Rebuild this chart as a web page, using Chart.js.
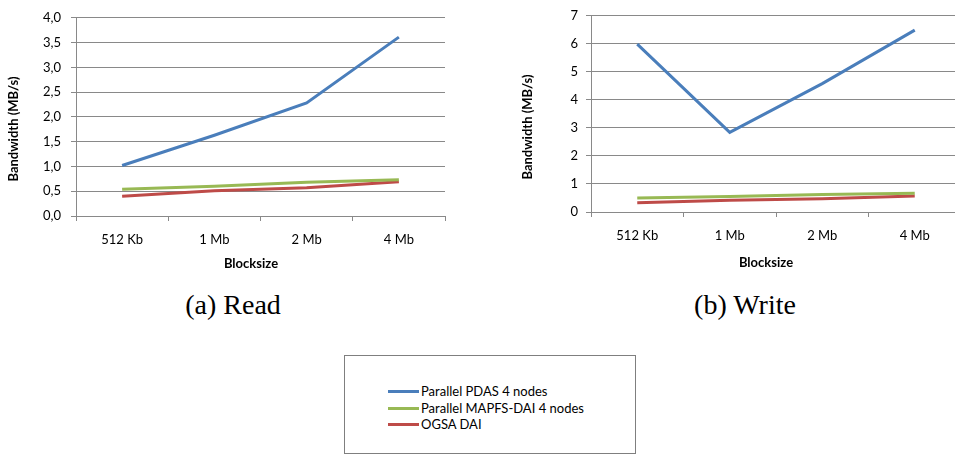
<!DOCTYPE html>
<html>
<head>
<meta charset="utf-8">
<script src="https://cdn.jsdelivr.net/npm/chart.js@4.4.1/dist/chart.umd.min.js"></script>
<style>
    html, body { margin: 0; padding: 0; background: #fff; width: 955px; height: 454px; overflow: hidden; }
    #wrap { position: relative; width: 955px; height: 454px; overflow: hidden; }
    canvas { position: absolute; top: 0; }
    #readChart { left: 0; }
    #writeChart { left: 480px; }
    .caption { position: absolute; font-family: "Liberation Serif", "DejaVu Serif", serif; font-size: 28px; color: #000; white-space: nowrap; transform: translateX(-50%); top: 289px; }
    #legendBox { position: absolute; left: 344px; top: 355px; width: 290px; height: 97px; border: 1px solid #7f7f7f; box-sizing: content-box; }
    .lg-row { position: absolute; left: 43px; height: 16px; font-family: Lato, "Open Sans", sans-serif; font-size: 13px; color: #000; white-space: nowrap; }
    .lg-row span.sw { position: absolute; left: 0; top: 7px; width: 31px; height: 3px; }
    .lg-row span.tx { position: absolute; left: 33px; top: 0; line-height: 16px; }
</style>
</head>
<body>
<div id="wrap">
    <canvas id="readChart" width="460" height="280"></canvas>
    <canvas id="writeChart" width="500" height="280"></canvas>
    <div class="caption" style="left:233px">(a) Read</div>
    <div class="caption" style="left:745px">(b) Write</div>
    <div id="legendBox"></div>
</div>
<script>
// categories and series
var blocksizes = ['512 Kb', '1 Mb', '2 Mb', '4 Mb'];
var seriesNames = ['Parallel PDAS 4 nodes', 'Parallel MAPFS-DAI 4 nodes', 'OGSA DAI'];
var seriesColors = ['#4a7ebb', '#98b954', '#be4b48'];

// (a) Read
var readPdas = [1.02, 1.63, 2.28, 3.61];
var readMapfs = [0.54, 0.60, 0.68, 0.73];
var readOgsa = [0.40, 0.51, 0.57, 0.69];
var readTickLabels = ['0,0', '0,5', '1,0', '1,5', '2,0', '2,5', '3,0', '3,5', '4,0'];

// (b) Write
var writePdas = [5.99, 2.84, 4.58, 6.49];
var writeMapfs = [0.50, 0.55, 0.62, 0.67];
var writeOgsa = [0.33, 0.42, 0.47, 0.57];
var writeTickLabels = ['0', '1', '2', '3', '4', '5', '6', '7'];

var gridColor = '#898989';
var fontFamily = 'Lato, "Open Sans", sans-serif';

// draws the axis titles where Excel put them (not centred on the plot)
var axisTitles = {
    id: 'axisTitles',
    afterDraw: function (chart, args, opts) {
        var ctx = chart.ctx;
        ctx.save();
        ctx.font = 'bold 13px ' + fontFamily;
        ctx.fillStyle = '#000';
        ctx.textAlign = 'center';
        ctx.textBaseline = 'middle';
        ctx.fillText(opts.xText, opts.xPos[0], opts.xPos[1]);
        ctx.translate(opts.yPos[0], opts.yPos[1]);
        ctx.rotate(-Math.PI / 2);
        ctx.fillText(opts.yText, 0, 0);
        ctx.restore();
    }
};

function makeDatasets(values) {
    return values.map(function (v, i) {
        return {
            label: seriesNames[i],
            data: v,
            borderColor: seriesColors[i],
            backgroundColor: seriesColors[i],
            borderWidth: 3,
            pointRadius: 0,
            tension: 0
        };
    });
}

function makeChart(id, values, tickLabels, yMax, cfg) {
    var ctx = document.getElementById(id).getContext('2d');
    return new Chart(ctx, {
        type: 'line',
        data: { labels: blocksizes, datasets: makeDatasets(values) },
        plugins: [axisTitles],
        options: {
            responsive: false,
            animation: false,
            layout: { padding: cfg.padding },
            plugins: {
                legend: { display: false },
                tooltip: { enabled: false },
                axisTitles: cfg.titles
            },
            scales: {
                x: {
                    offset: true,
                    grid: { display: true, offset: true, drawOnChartArea: false, drawTicks: true, tickLength: 5, color: gridColor },
                    border: { display: true, color: gridColor },
                    ticks: { font: { family: fontFamily, size: 13 }, color: '#000', padding: cfg.xPad, maxRotation: 0 },
                    afterFit: function (scale) { scale.height = cfg.xHeight; }
                },
                y: {
                    min: 0,
                    max: yMax,
                    grid: { color: gridColor, tickLength: 5 },
                    border: { display: true, color: gridColor },
                    ticks: {
                        stepSize: yMax / (tickLabels.length - 1),
                        font: { family: fontFamily, size: 13 },
                        color: '#000',
                        padding: cfg.yPad,
                        callback: function (value, index) { return tickLabels[index]; }
                    },
                    afterFit: function (scale) { scale.width = cfg.yWidth; }
                }
            }
        }
    });
}

makeChart('readChart', [readPdas, readMapfs, readOgsa], readTickLabels, 4, {
    padding: { top: 10, right: 15, left: 0, bottom: 0 },
    yWidth: 76, xHeight: 64, xPad: 11, yPad: 10,
    titles: { xText: 'Blocksize', xPos: [251, 264], yText: 'Bandwidth (MB/s)', yPos: [14, 129] }
});

makeChart('writeChart', [writePdas, writeMapfs, writeOgsa], writeTickLabels, 7, {
    padding: { top: 6, right: 19, left: 0, bottom: 0 },
    yWidth: 111, xHeight: 68, xPad: 11, yPad: 8,
    titles: { xText: 'Blocksize', xPos: [286, 263], yText: 'Bandwidth (MB/s)', yPos: [48, 127] }
});

// shared legend under both charts
var box = document.getElementById('legendBox');
var rowTops = [27, 43.5, 60];
seriesNames.forEach(function (name, i) {
    var row = document.createElement('div');
    row.className = 'lg-row';
    row.style.top = rowTops[i] + 'px';
    row.innerHTML = '<span class="sw" style="background:' + seriesColors[i] + '"></span><span class="tx"></span>';
    row.querySelector('.tx').textContent = name;
    box.appendChild(row);
});
</script>
</body>
</html>
